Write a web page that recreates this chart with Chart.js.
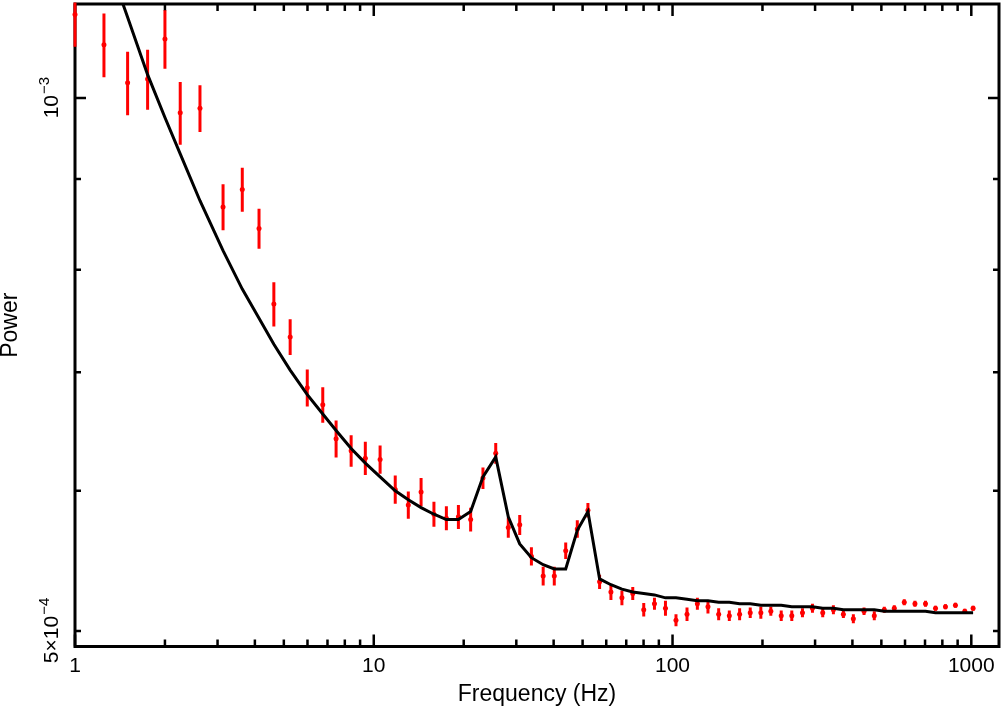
<!DOCTYPE html>
<html>
<head>
<meta charset="utf-8">
<script src="https://cdn.jsdelivr.net/npm/chart.js@4.4.1/dist/chart.umd.min.js"></script>
<style>
    html, body { margin: 0; padding: 0; background: #fff; }
    #wrap { width: 1003px; height: 706px; }
</style>
</head>
<body>
<div id="wrap"><canvas id="myChart" width="1003" height="706"></canvas></div>
<script>
// frequency bins (Hz)
const frequency = [
    1.00, 1.25, 1.50, 1.75, 2.00, 2.25, 2.62, 3.13, 3.63, 4.13,
    4.63, 5.25, 5.99, 6.75, 7.48, 8.40, 9.37, 10.5, 11.8, 13.05,
    14.4, 15.9, 17.5, 19.2, 21.1, 23.2, 25.6, 28.2, 30.8, 33.7,
    36.9, 40.2, 43.9, 48.0, 52.1, 57.0, 62.2, 67.7, 73.6, 80.1,
    87.0, 94.7, 102.7, 111.8, 121.1, 131.4, 142.7, 154.9, 167.7, 182.0,
    197.5, 213.3, 231.1, 250.7, 272.2, 294.0, 318.2, 345.5, 373.1, 402.9,
    437.5, 473.5, 511.4, 552.4, 596.6, 647.7, 702.6, 758.9, 819.4, 884.9,
    951.2, 1014
];

// measured power (units of 1e-4)
const power = [
    11.15, 10.72, 10.20, 10.25, 10.80, 9.81, 9.87, 8.68, 8.88, 8.44,
    7.65, 7.33, 6.86, 6.71, 6.42, 6.32, 6.26, 6.25, 6.01, 5.89,
    5.99, 5.82, 5.79, 5.80, 5.78, 6.10, 6.30, 5.72, 5.74, 5.51,
    5.37, 5.37, 5.55, 5.71, 5.85, 5.33, 5.26, 5.22, 5.25, 5.14,
    5.18, 5.15, 5.07, 5.11, 5.18, 5.16, 5.11, 5.10, 5.11, 5.12,
    5.12, 5.13, 5.10, 5.10, 5.12, 5.15, 5.12, 5.14, 5.11, 5.08,
    5.13, 5.10, 5.14, 5.15, 5.19, 5.18, 5.18, 5.15, 5.16, 5.17,
    5.13, 5.15
];

// 1 sigma error on power (units of 1e-4)
const powerError = [
    0.46, 0.445, 0.42, 0.40, 0.41, 0.40, 0.30, 0.26, 0.255, 0.22,
    0.22, 0.17, 0.165, 0.155, 0.155, 0.13, 0.135, 0.115, 0.11, 0.105,
    0.11, 0.095, 0.09, 0.09, 0.09, 0.085, 0.085, 0.075, 0.075, 0.065,
    0.065, 0.065, 0.06, 0.065, 0.055, 0.05, 0.055, 0.05, 0.045, 0.045,
    0.04, 0.05, 0.04, 0.045, 0.04, 0.045, 0.04, 0.035, 0.04, 0.035,
    0.04, 0.03, 0.035, 0.035, 0.03, 0.03, 0.03, 0.03, 0.025, 0.03,
    0.025, 0.03, 0.02, 0.02, 0.02, 0.02, 0.02, 0.017, 0.017, 0.017,
    0.017, 0.017
];

// model power at each bin (units of 1e-4)
const model = [
    13.6, 12.12, 11.11, 10.31, 9.75, 9.30, 8.75, 8.20, 7.80, 7.51,
    7.26, 7.02, 6.80, 6.63, 6.49, 6.34, 6.22, 6.11, 6.00, 5.93,
    5.87, 5.82, 5.78, 5.78, 5.84, 6.11, 6.27, 5.80, 5.60, 5.50,
    5.45, 5.42, 5.42, 5.70, 5.84, 5.35, 5.31, 5.28, 5.26, 5.25,
    5.24, 5.22, 5.22, 5.21, 5.20, 5.20, 5.19, 5.19, 5.18, 5.18,
    5.17, 5.17, 5.17, 5.16, 5.16, 5.16, 5.15, 5.15, 5.14, 5.14,
    5.14, 5.14, 5.13, 5.13, 5.13, 5.13, 5.13, 5.12, 5.12, 5.12,
    5.12, 5.12
];

const UNIT = 1e-4;

const xTicks = [1, 10, 100, 1000];
const xTickLabels = ['1', '10', '100', '1000'];
const yTicks = [5e-4, 1e-3];
const yTickLabels = [['5\u00d710', '\u22124'], ['10', '\u22123']];
const yMinorTicks = [5e-4, 6e-4, 7e-4, 8e-4, 9e-4];
const xTitle = 'Frequency (Hz)';
const yTitle = 'Power';

const FONT = '"Liberation Sans", Arial, Helvetica, sans-serif';

var xMinorTicks = [];
[1, 10, 100].forEach(function (d) {
    for (var k = 2; k <= 9; k++) {
        xMinorTicks.push(k * d);
    }
});

const framePlugin = {
    id: 'frameTicks',
    beforeDatasetsDraw(chart) {
        const ctx = chart.ctx;
        const a = chart.chartArea;
        const xs = chart.scales.x;
        const ys = chart.scales.y;

        ctx.save();
        ctx.strokeStyle = '#000';
        ctx.lineCap = 'butt';

        // ticks pointing inward on all four sides
        ctx.lineWidth = 2.5;
        ctx.beginPath();
        xTicks.forEach(function (v) {
            var px = xs.getPixelForValue(v);
            ctx.moveTo(px, a.bottom); ctx.lineTo(px, a.bottom - 12);
            ctx.moveTo(px, a.top); ctx.lineTo(px, a.top + 12);
        });
        xMinorTicks.forEach(function (v) {
            var px = xs.getPixelForValue(v);
            ctx.moveTo(px, a.bottom); ctx.lineTo(px, a.bottom - 7);
            ctx.moveTo(px, a.top); ctx.lineTo(px, a.top + 7);
        });
        var py = ys.getPixelForValue(1e-3);
        ctx.moveTo(a.left, py); ctx.lineTo(a.left + 11, py);
        ctx.moveTo(a.right, py); ctx.lineTo(a.right - 11, py);
        yMinorTicks.forEach(function (v) {
            var p = ys.getPixelForValue(v);
            ctx.moveTo(a.left, p); ctx.lineTo(a.left + 6, p);
            ctx.moveTo(a.right, p); ctx.lineTo(a.right - 6, p);
        });
        ctx.stroke();

        ctx.lineWidth = 3;
        ctx.strokeRect(a.left, a.top, a.right - a.left, a.bottom - a.top);

        // tick labels
        ctx.fillStyle = '#000';
        ctx.font = '21px ' + FONT;
        ctx.textAlign = 'center';
        ctx.textBaseline = 'alphabetic';
        xTicks.forEach(function (v, i) {
            ctx.fillText(xTickLabels[i], xs.getPixelForValue(v), 672);
        });

        yTicks.forEach(function (v, i) {
            var main = yTickLabels[i][0];
            var sup = yTickLabels[i][1];
            ctx.save();
            ctx.translate(58, ys.getPixelForValue(v));
            ctx.rotate(-Math.PI / 2);
            ctx.textAlign = 'left';
            ctx.font = '21px ' + FONT;
            var w1 = ctx.measureText(main).width;
            ctx.font = '15px ' + FONT;
            var w2 = ctx.measureText(sup).width;
            var start = -(w1 + w2) / 2;
            ctx.font = '21px ' + FONT;
            ctx.fillText(main, start, 0);
            ctx.font = '15px ' + FONT;
            ctx.fillText(sup, start + w1 + 1, -9);
            ctx.restore();
        });

        // axis titles
        ctx.font = '23px ' + FONT;
        ctx.textAlign = 'center';
        ctx.fillText(xTitle, (a.left + a.right) / 2, 701);
        ctx.save();
        ctx.translate(17, (a.top + a.bottom) / 2);
        ctx.rotate(-Math.PI / 2);
        ctx.fillText(yTitle, 0, 0);
        ctx.restore();

        // error bars
        ctx.beginPath();
        ctx.rect(a.left - 5, a.top - 1.5, a.right - a.left + 10, a.bottom - a.top + 1.5);
        ctx.clip();
        ctx.strokeStyle = '#ff0000';
        ctx.lineWidth = 3;
        ctx.beginPath();
        frequency.forEach(function (f, i) {
            var px = xs.getPixelForValue(f);
            var lo = (power[i] - powerError[i]) * UNIT;
            var hi = (power[i] + powerError[i]) * UNIT;
            ctx.moveTo(px, ys.getPixelForValue(lo));
            ctx.lineTo(px, ys.getPixelForValue(hi));
        });
        ctx.stroke();
        ctx.restore();
    }
};

var modelData = frequency.map(function (f, i) {
    return { x: f, y: model[i] * UNIT };
});
var powerData = frequency.map(function (f, i) {
    return { x: f, y: power[i] * UNIT };
});

var ctx = document.getElementById('myChart').getContext('2d');
var myChart = new Chart(ctx, {
    type: 'scatter',
    data: {
        datasets: [{
            label: 'Model',
            data: modelData,
            showLine: true,
            borderColor: '#000',
            borderWidth: 3,
            pointRadius: 0,
            tension: 0,
            fill: false,
            clip: 0
        }, {
            label: 'Power',
            data: powerData,
            backgroundColor: '#ff0000',
            borderWidth: 0,
            pointRadius: 2.5,
            clip: 5
        }]
    },
    options: {
        responsive: false,
        animation: false,
        devicePixelRatio: 1,
        layout: {
            padding: { left: 75, right: 2, top: 1.5, bottom: 59.5 }
        },
        scales: {
            x: { type: 'logarithmic', min: 1, max: 1238, display: false },
            y: { type: 'logarithmic', min: 4.92e-4, max: 1.1302e-3, display: false }
        },
        plugins: {
            legend: { display: false },
            tooltip: { enabled: false }
        }
    },
    plugins: [framePlugin]
});
</script>
</body>
</html>
